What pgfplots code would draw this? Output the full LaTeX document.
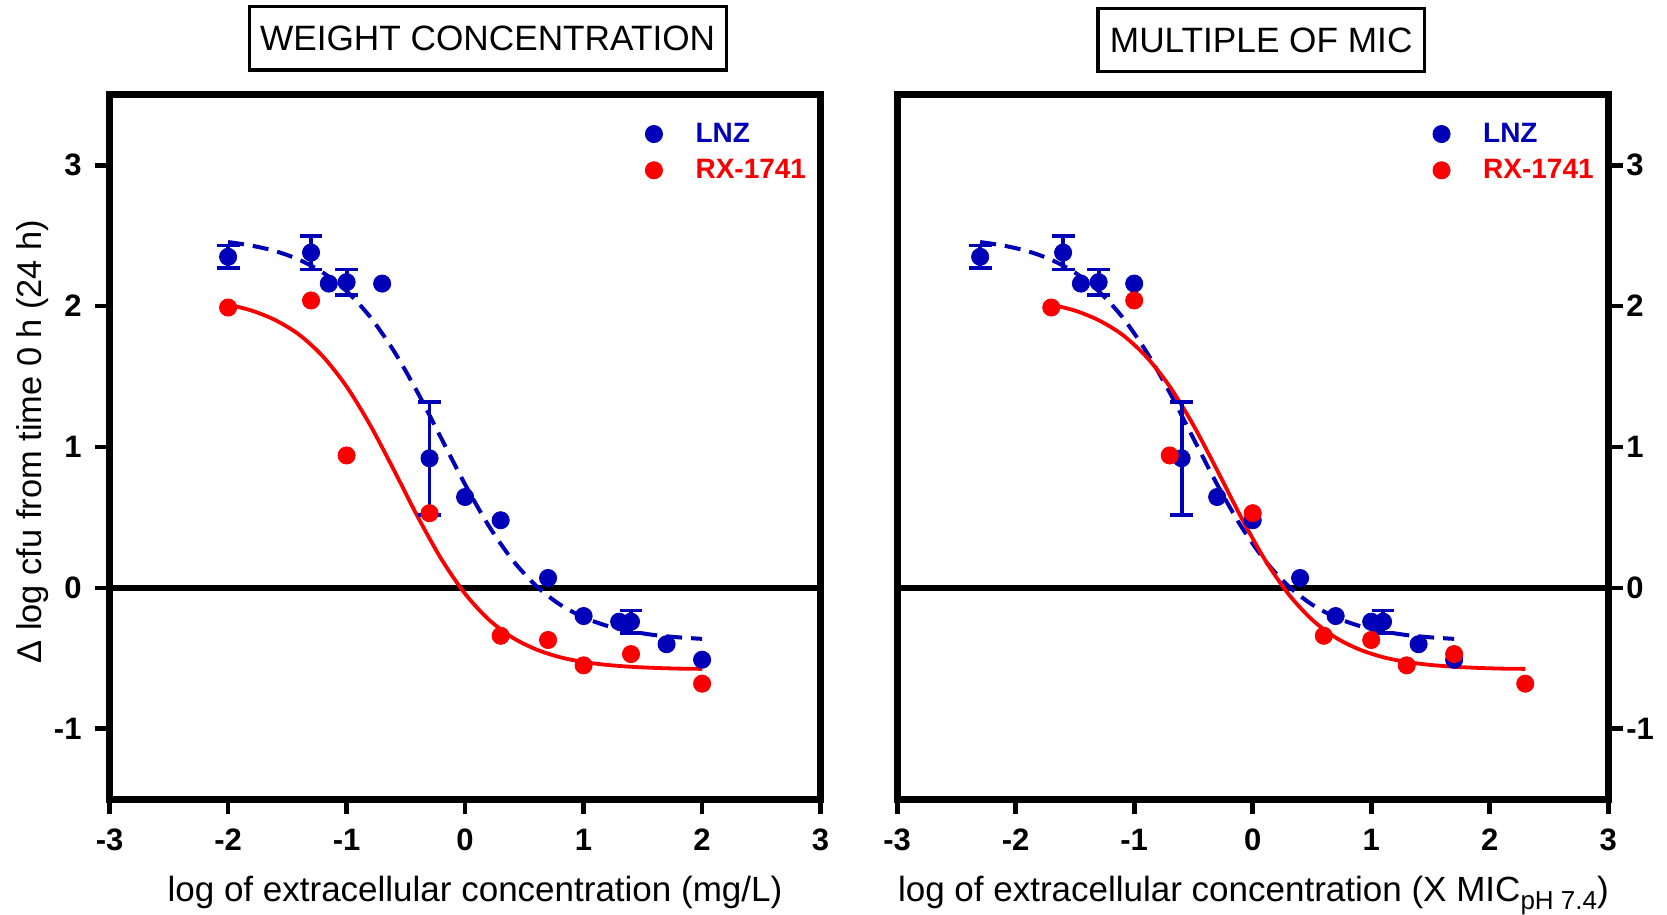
\documentclass[border=0pt]{standalone}
\usepackage{pgfplots}
\pgfplotsset{compat=1.18}
\usepackage{pgfplotstable}
\usepackage{fontspec}
\setmainfont{Liberation Sans}
\definecolor{lnzblue}{RGB}{0,0,185}
\definecolor{rxred}{RGB}{250,0,0}

% ---------------- weight concentration (mg/L) ----------------
\pgfplotstableread{
x y e
-2.0 2.35 0.08
-1.3 2.38 0.12
-1.0 2.17 0.09
-0.3 0.92 0.40
1.4 -0.24 0.08
}\lnzLerr
\pgfplotstableread{
x y
-1.15 2.16
-0.7 2.16
0.0 0.645
0.3 0.48
0.7 0.07
1.0 -0.20
1.3 -0.24
1.7 -0.40
2.0 -0.51
}\lnzL
\pgfplotstableread{
x y
-2.0 1.99
-1.3 2.04
-1.0 0.94
-0.3 0.53
0.3 -0.34
0.7 -0.37
1.0 -0.55
1.4 -0.47
2.0 -0.68
}\rxL
\pgfplotstableread{
x y
-2.0 2.455
-1.8 2.429
-1.6 2.390
-1.4 2.329
-1.2 2.238
-1.0 2.106
-0.8 1.922
-0.6 1.680
-0.4 1.386
-0.2 1.060
0.0 0.734
0.2 0.440
0.4 0.198
0.6 0.014
0.8 -0.118
1.0 -0.209
1.2 -0.270
1.4 -0.309
1.6 -0.335
1.8 -0.351
2.0 -0.362
}\lnzLfit
\pgfplotstableread{
x y
-2.0 2.011
-1.8 1.968
-1.6 1.900
-1.4 1.797
-1.2 1.643
-1.0 1.429
-0.8 1.154
-0.6 0.835
-0.4 0.505
-0.2 0.204
0.0 -0.042
0.2 -0.225
0.4 -0.353
0.6 -0.437
0.8 -0.492
1.0 -0.526
1.2 -0.547
1.4 -0.560
1.6 -0.568
1.8 -0.573
2.0 -0.575
}\rxLfit

% ---------------- multiple of MIC ----------------
\pgfplotstableread{
x y e
-2.3 2.35 0.08
-1.6 2.38 0.12
-1.3 2.17 0.09
-0.6 0.92 0.40
1.1 -0.24 0.08
}\lnzRerr
\pgfplotstableread{
x y
-1.45 2.16
-1.0 2.16
-0.3 0.645
0.0 0.48
0.4 0.07
0.7 -0.20
1.0 -0.24
1.4 -0.40
1.7 -0.51
}\lnzR
\pgfplotstableread{
x y
-1.7 1.99
-1.0 2.04
-0.7 0.94
0.0 0.53
0.6 -0.34
1.0 -0.37
1.3 -0.55
1.7 -0.47
2.3 -0.68
}\rxR
\pgfplotstableread{
x y
-2.3 2.455
-2.1 2.429
-1.9 2.390
-1.7 2.329
-1.5 2.238
-1.3 2.106
-1.1 1.922
-0.9 1.680
-0.7 1.386
-0.5 1.060
-0.3 0.734
-0.1 0.440
0.1 0.198
0.3 0.014
0.5 -0.118
0.7 -0.209
0.9 -0.270
1.1 -0.309
1.3 -0.335
1.5 -0.351
1.7 -0.362
}\lnzRfit
\pgfplotstableread{
x y
-1.7 2.011
-1.5 1.968
-1.3 1.900
-1.1 1.797
-0.9 1.643
-0.7 1.429
-0.5 1.154
-0.3 0.835
-0.1 0.505
0.1 0.204
0.3 -0.042
0.5 -0.225
0.7 -0.353
0.9 -0.437
1.1 -0.492
1.3 -0.526
1.5 -0.547
1.7 -0.560
1.9 -0.568
2.1 -0.573
2.3 -0.575
}\rxRfit

\pgfplotsset{
  panel/.style={
    scale only axis, width=355.5pt, height=352.2pt,
    xmin=-3, xmax=3, ymin=-1.5, ymax=3.5,
    xtick={-3,-2,-1,0,1,2,3}, xticklabels={-3,-2,-1,0,1,2,3},
    ytick={-1,0,1,2,3}, yticklabels={-1,0,1,2,3},
    xtick pos=bottom,
    tick align=outside, major tick length=7.5pt,
    every tick/.style={black, line width=2.3pt},
    axis line style={line width=3.5pt},
    ticklabel style={font=\bfseries\fontsize{15.5}{16}\selectfont},
    xticklabel style={yshift=-4pt},
    legend cell align=left,
    legend style={draw=none, fill=none, at={(0.7445,0.972)}, anchor=north west,
      font=\bfseries\fontsize{14}{16}\selectfont, row sep=3pt,
      /tikz/every odd column/.append style={column sep=14.5pt}},
  },
  errstyle/.style={only marks, mark=*, mark size=4.3pt, color=lnzblue,
    mark options={line width=0.4pt}, forget plot,
    error bars/.cd, y dir=both, y explicit,
    error bar style={line width=1.9pt, lnzblue},
    error mark options={rotate=90, mark size=5.7pt, line width=1.9pt, lnzblue}},
  ptstyle/.style={only marks, mark=*, mark size=4.3pt, color=#1, mark options={line width=0.4pt}},
  lnzfit/.style={lnzblue, line width=2pt, dash pattern=on 8pt off 4.5pt, smooth, no marks, forget plot},
  rxfit/.style={rxred, line width=1.9pt, smooth, no marks, forget plot},
}

\begin{document}
\begin{tikzpicture}
\path[use as bounding box] (0,0) rectangle (833.5pt,457.5pt);

\begin{axis}[panel, at={(54.8pt,57.9pt)}, anchor=south west, ytick pos=left,
  yticklabel style={xshift=-3pt}]
\addplot[black, line width=3.3pt, no marks, forget plot] coordinates {(-3,0) (3,0)};
\addplot[lnzfit] table[x=x,y=y] {\lnzLfit};
\addplot[rxfit] table[x=x,y=y] {\rxLfit};
\addplot[errstyle] table[x=x,y=y,y error=e] {\lnzLerr};
\addplot[ptstyle=lnzblue] table[x=x,y=y] {\lnzL};
\addlegendentry{\textcolor{lnzblue}{LNZ}}
\addplot[ptstyle=rxred] table[x=x,y=y] {\rxL};
\addlegendentry{\textcolor{rxred}{RX-1741}}
\end{axis}

\begin{axis}[panel, at={(448.6pt,57.9pt)}, anchor=south west, ytick pos=right, yticklabel pos=right,
  yticklabel style={xshift=-2pt}]
\addplot[black, line width=3.3pt, no marks, forget plot] coordinates {(-3,0) (3,0)};
\addplot[lnzfit] table[x=x,y=y] {\lnzRfit};
\addplot[rxfit] table[x=x,y=y] {\rxRfit};
\addplot[errstyle] table[x=x,y=y,y error=e] {\lnzRerr};
\addplot[ptstyle=lnzblue] table[x=x,y=y] {\lnzR};
\addlegendentry{\textcolor{lnzblue}{LNZ}}
\addplot[ptstyle=rxred] table[x=x,y=y] {\rxR};
\addlegendentry{\textcolor{rxred}{RX-1741}}
\end{axis}

% titles
\node[draw, line width=1.6pt, minimum width=238.5pt, minimum height=31.7pt, inner sep=0pt,
  font=\fontsize{17.6}{17.6}\selectfont] at (243.8pt,438.3pt) {WEIGHT CONCENTRATION};
\node[draw, line width=1.6pt, minimum width=163.3pt, minimum height=31.7pt, inner sep=0pt,
  font=\fontsize{17.6}{17.6}\selectfont] at (630.6pt,437.5pt) {MULTIPLE OF MIC};

% axis labels
\node[rotate=90, anchor=base, font=\fontsize{17.2}{18}\selectfont] at (20.8pt,236.75pt)
  {Δ log cfu from time 0 h (24 h)};
\node[anchor=base, font=\fontsize{17.5}{18}\selectfont] at (237.5pt,6.75pt)
  {log of extracellular concentration (mg/L)};
\node[anchor=base, font=\fontsize{17.5}{18}\selectfont] at (626.7pt,6.75pt)
  {log of extracellular concentration (X MIC\raisebox{-4.2pt}{\fontsize{13}{13}\selectfont pH 7.4})};
\end{tikzpicture}
\end{document}
